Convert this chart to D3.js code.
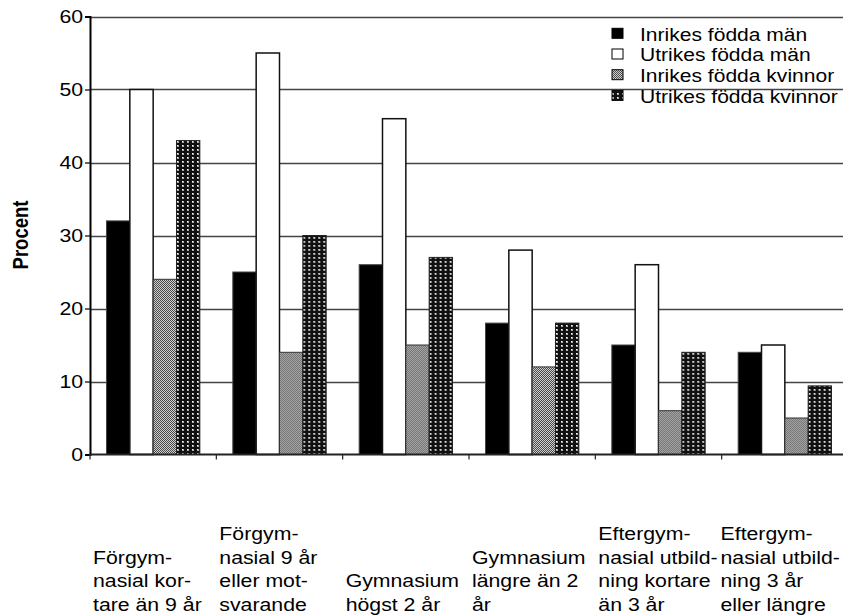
<!DOCTYPE html>
<html>
<head>
<meta charset="utf-8">
<script src="https://cdn.jsdelivr.net/npm/d3@7"></script>
<style>
  html, body { margin: 0; padding: 0; background: #fff; }
  svg { display: block; }
  text { font-family: "Liberation Sans", Arial, Helvetica, sans-serif; fill: #000; }
</style>
</head>
<body>
<svg id="chart" width="843" height="615"></svg>
<script>
// ---- data ----
const categoryLines = [
  ["Förgym-", "nasial kor-", "tare än 9 år"],
  ["Förgym-", "nasial 9 år", "eller mot-", "svarande"],
  ["Gymnasium", "högst 2 år"],
  ["Gymnasium", "längre än 2", "år"],
  ["Eftergym-", "nasial utbild-", "ning kortare", "än 3 år"],
  ["Eftergym-", "nasial utbild-", "ning 3 år", "eller längre"]
];
const categories = categoryLines.map(l => l.join(" "));
const seriesNames = ["Inrikes födda män", "Utrikes födda män", "Inrikes födda kvinnor", "Utrikes födda kvinnor"];
const inrikesMan    = [32, 25, 26, 18, 15, 14];
const utrikesMan    = [50, 55, 46, 28, 26, 15];
const inrikesKvinna = [24, 14, 15, 12, 6, 5];
const utrikesKvinna = [43, 30, 27, 18, 14, 9.4];
const yTicks = [0, 10, 20, 30, 40, 50, 60];
const yTitle = "Procent";

const seriesValues = [inrikesMan, utrikesMan, inrikesKvinna, utrikesKvinna];

// ---- setup ----
const svg = d3.select("#chart");
const W = 843, H = 615;
const xLeft = 90, xRight = 848, yBottom = 454.5, yTop = 16.5;
const SX = 1.15; // horizontal text stretch of the reference
const FS = 18.5;
const FSL = 18.3;

const defs = svg.append("defs");
// grey dotted pattern
const p1 = defs.append("pattern").attr("id", "patGrey").attr("patternUnits", "userSpaceOnUse")
  .attr("width", 2).attr("height", 2);
p1.append("rect").attr("width", 2).attr("height", 2).attr("fill", "#d0d0d0");
p1.append("rect").attr("x", 0).attr("y", 0).attr("width", 1).attr("height", 1).attr("fill", "#4a4a4a");
p1.append("rect").attr("x", 1).attr("y", 1).attr("width", 1).attr("height", 1).attr("fill", "#4a4a4a");
// dark pattern with light dots in columns
const p2 = defs.append("pattern").attr("id", "patDark").attr("patternUnits", "userSpaceOnUse")
  .attr("width", 5).attr("height", 4);
p2.append("rect").attr("width", 5).attr("height", 4).attr("fill", "#111");
p2.append("rect").attr("x", 2).attr("y", 1).attr("width", 2).attr("height", 2).attr("fill", "#aaa");
p2.append("rect").attr("x", 2).attr("y", 1).attr("width", 1).attr("height", 1).attr("fill", "#fff");

const fills = ["#000", "#fff", "url(#patGrey)", "url(#patDark)"];
const strokes = ["#444", "#111", "#333", "#222"];

const x0 = d3.scaleBand().domain(categories).range([xLeft, xRight]).paddingInner(0).paddingOuter(0);
const bw = x0.bandwidth();
const x1 = d3.scaleBand().domain(seriesNames).range([16.5, bw - 16.5]).padding(0);
const y = d3.scaleLinear().domain([0, 60]).range([yBottom, yTop]);

// gridlines
svg.append("g").selectAll("line").data(yTicks.filter(t => t > 0)).join("line")
  .attr("x1", xLeft).attr("x2", W)
  .attr("y1", d => Math.round(y(d)) + 0.5).attr("y2", d => Math.round(y(d)) + 0.5)
  .attr("stroke", "#444").attr("stroke-width", 1.3);

// bars
const groups = svg.append("g").selectAll("g").data(categories).join("g")
  .attr("transform", d => `translate(${x0(d)},0)`);
groups.selectAll("rect").data((d, i) => seriesNames.map((s, j) => ({ s, j, v: seriesValues[j][i] })))
  .join("rect")
  .attr("x", d => x1(d.s))
  .attr("y", d => y(d.v))
  .attr("width", x1.bandwidth())
  .attr("height", d => y(0) - y(d.v))
  .attr("fill", d => fills[d.j])
  .attr("stroke", d => strokes[d.j])
  .attr("stroke-width", d => d.j === 1 ? 1.5 : 1);

// y axis
const yAxis = svg.append("g").attr("transform", `translate(${xLeft},0)`)
  .call(d3.axisLeft(y).tickValues(yTicks).tickSize(5).tickPadding(1).tickFormat(d3.format("d")));
yAxis.select(".domain").attr("stroke", "#000").attr("stroke-width", 2);
yAxis.selectAll(".tick line").attr("stroke", "#000").attr("stroke-width", 1.2);
yAxis.selectAll(".tick text")
  .attr("font-size", FS).attr("font-family", "Liberation Sans, Arial, sans-serif")
  .attr("transform", `scale(${SX},1)`);

// x axis baseline + boundary ticks
const bounds = categories.map(c => x0(c));
svg.append("line").attr("x1", xLeft - 1).attr("x2", W).attr("y1", yBottom).attr("y2", yBottom)
  .attr("stroke", "#222").attr("stroke-width", 2);
svg.append("g").selectAll("line").data(bounds).join("line")
  .attr("x1", d => d).attr("x2", d => d).attr("y1", yBottom).attr("y2", yBottom + 5)
  .attr("stroke", "#222").attr("stroke-width", 1.2);

// category labels
const lineH = 23.7, lastBase = 611;
categoryLines.forEach((lines, i) => {
  const g = svg.append("g");
  const t = g.append("text").attr("font-size", FS);
  lines.forEach((ln, k) => {
    t.append("tspan").attr("x", 0).attr("y", lastBase - (lines.length - 1 - k) * lineH).text(ln);
  });
  const wMax = d3.max(t.selectAll("tspan").nodes(), n => n.getComputedTextLength()) * SX;
  let left = x0(categories[i]) + 3;
  if (left + wMax > W - 3) left = W - 3 - wMax;
  t.attr("transform", `translate(${left},0) scale(${SX},1)`);
});

// y title
svg.append("text")
  .attr("transform", `translate(28,235) rotate(-90) scale(1,${SX})`)
  .attr("text-anchor", "middle")
  .attr("font-size", FS).attr("font-weight", "bold")
  .text(yTitle);

// legend
const legend = svg.append("g");
seriesNames.forEach((s, j) => {
  const base = 40.7 + j * 20.7;
  legend.append("rect").attr("x", 612).attr("y", base - 12.4).attr("width", 11).attr("height", 10)
    .attr("fill", fills[j]).attr("stroke", "#000").attr("stroke-width", 1);
  legend.append("text").attr("font-size", FSL)
    .attr("transform", `translate(640,${base}) scale(${SX},1)`)
    .text(s);
});
</script>
</body>
</html>
